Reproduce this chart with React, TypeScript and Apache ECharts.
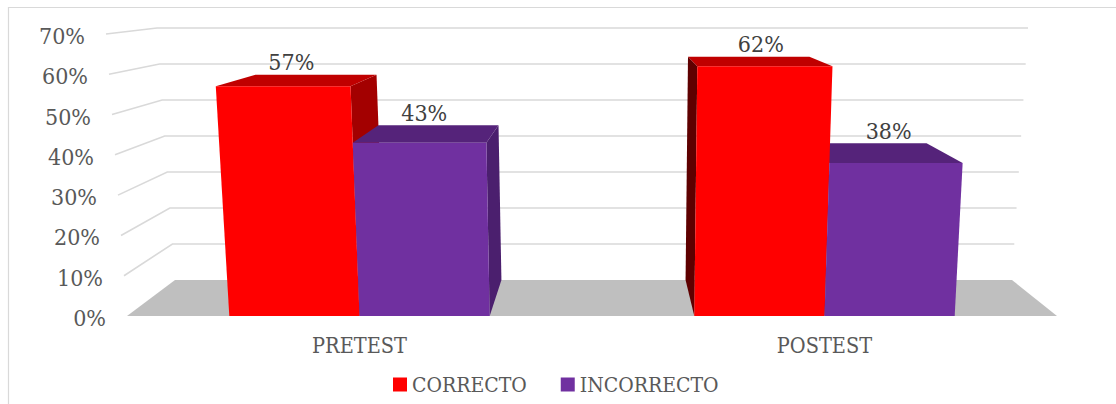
import React, { useEffect, useRef } from "react";
import * as echarts from "echarts";

// ---- data ----
const categories = ["PRETEST", "POSTEST"];
const seriesNames = ["CORRECTO", "INCORRECTO"];
const correcto = [57, 62];
const incorrecto = [43, 38];
const yTicks = [0, 10, 20, 30, 40, 50, 60, 70];
const yTickLabels = ["0%", "10%", "20%", "30%", "40%", "50%", "60%", "70%"];

// ---- styles ----
const FONT = '"DejaVu Serif Condensed", "DejaVu Serif", "Liberation Serif", serif';
const AXIS_TEXT = "#595959";
const LABEL_TEXT = "#404040";
const frontColors = ["#FF0000", "#7030A0"];
const topColors = ["#C00000", "#55237A"];
const rightSideColors = ["#A30000", "#4B1F6E"];
const leftSideColors = ["#5E0000", "#3A1656"];

// perspective warp of the plot box (front plane -> back wall)
function makeProj(cs: any) {
  const bottom = cs.y + cs.height;
  return (px: number, py: number, w: number): number[] => {
    const s = (px - cs.x) / cs.width;
    const t = (bottom - py) / cs.height;
    const fl = cs.x - 21 * t;
    const fr = cs.x + cs.width + 19 * t;
    const xf = fl + s * (fr - fl);
    const bl = cs.x + 48 - 18 * t;
    const br = cs.x + cs.width - 45 + 16 * t;
    const xb = bl + s * (br - bl);
    const yb0 = bottom - 36;
    const yb1 = cs.y - 6;
    const yb = yb0 + t * (yb1 - yb0);
    return [xf + w * (xb - xf), py + w * (yb - py)];
  };
}

function barRender(sIdx: number) {
  return (params: any, api: any) => {
    const cs = params.coordSys;
    const P = makeProj(cs);
    const cat = api.value(0);
    const val = api.value(1);
    const base = api.coord([cat, 0]);
    const topPt = api.coord([cat, val]);
    const cx = base[0];
    const by = base[1];
    const ty = topPt[1];
    const band = api.size([1, 0])[0];
    const bw = band * 0.28;
    const x0 = cx - bw + sIdx * bw;
    const x1 = x0 + bw;
    const front = [P(x0, ty, 0), P(x1, ty, 0), P(x1, by, 0), P(x0, by, 0)];
    const top = [P(x0, ty, 0), P(x1, ty, 0), P(x1, ty, 1), P(x0, ty, 1)];
    const showRight = (x0 + x1) / 2 < cs.x + cs.width / 2;
    const sx = showRight ? x1 : x0;
    const side = [P(sx, ty, 0), P(sx, ty, 1), P(sx, by, 1), P(sx, by, 0)];
    const mid = P((x0 + x1) / 2, ty, 0.25);
    const back = P((x0 + x1) / 2, ty, 1);
    return {
      type: "group",
      children: [
        {
          type: "polygon",
          z2: 1,
          shape: { points: side },
          style: { fill: showRight ? rightSideColors[sIdx] : leftSideColors[sIdx] },
        },
        {
          type: "polygon",
          z2: 2,
          shape: { points: top },
          style: { fill: topColors[sIdx] },
        },
        {
          type: "polygon",
          z2: 10,
          shape: { points: front },
          style: { fill: frontColors[sIdx] },
        },
        {
          type: "text",
          z2: 20,
          x: mid[0],
          y: back[1] - 12.5,
          style: {
            text: `${val}%`,
            align: "center",
            verticalAlign: "middle",
            fontSize: 23,
            fontFamily: FONT,
            fill: LABEL_TEXT,
          },
        },
      ],
    };
  };
}

export default function App() {
  const ref = useRef<HTMLDivElement>(null);

  useEffect(() => {
    if (!ref.current) return;
    const chart = echarts.init(ref.current, undefined, { renderer: "svg" });

    const option: any = {
      animation: false,
      backgroundColor: "#ffffff",
      grid: { left: 127, right: 59, top: 34, bottom: 88, containLabel: false },
      xAxis: {
        type: "category",
        data: categories,
        axisLine: { show: false },
        axisTick: { show: false },
        splitLine: { show: false },
        axisLabel: {
          show: true,
          margin: 29,
          verticalAlign: "middle",
          fontSize: 21.5,
          fontFamily: FONT,
          color: AXIS_TEXT,
        },
      },
      yAxis: {
        type: "value",
        min: 0,
        max: 70,
        interval: 10,
        axisLine: { show: false },
        axisTick: { show: false },
        splitLine: { show: false },
        axisLabel: { show: false },
      },
      legend: {
        data: seriesNames,
        left: 393,
        top: 374,
        padding: 0,
        icon: "rect",
        itemWidth: 14,
        itemHeight: 14,
        itemGap: 34,
        textStyle: { fontSize: 21, fontFamily: FONT, color: AXIS_TEXT },
      },
      graphic: [
        {
          type: "rect",
          silent: true,
          shape: { x: 8.5, y: 7.5, width: 1300, height: 600 },
          style: { fill: "none", stroke: "#D9D9D9", lineWidth: 1.2 },
        },
      ],
      series: [
        {
          name: "floor",
          type: "custom",
          z: 1,
          silent: true,
          data: [[0, 0]],
          renderItem: (params: any, api: any) => {
            const cs = params.coordSys;
            const P = makeProj(cs);
            const y0 = api.coord([0, 0])[1];
            const xl = cs.x;
            const xr = cs.x + cs.width;
            return {
              type: "polygon",
              shape: { points: [P(xl, y0, 0), P(xr, y0, 0), P(xr, y0, 1), P(xl, y0, 1)] },
              style: { fill: "#BFBFBF" },
            };
          },
        },
        {
          name: "grid",
          type: "custom",
          z: 1,
          silent: true,
          data: yTicks.filter((v) => v > 0).map((v) => [0, v]),
          renderItem: (params: any, api: any) => {
            const cs = params.coordSys;
            const P = makeProj(cs);
            const y = api.coord([0, api.value(1)])[1];
            const xl = cs.x;
            const xr = cs.x + cs.width;
            return {
              type: "polyline",
              shape: { points: [P(xl, y, 0), P(xl, y, 1), P(xr, y, 1)] },
              style: { stroke: "#D9D9D9", lineWidth: 1.6, fill: "none" },
            };
          },
        },
        {
          name: "ylabels",
          type: "custom",
          z: 3,
          silent: true,
          data: yTicks.map((v) => [0, v]),
          renderItem: (params: any, api: any) => {
            const cs = params.coordSys;
            const P = makeProj(cs);
            const y = api.coord([0, api.value(1)])[1];
            const p = P(cs.x, y, 0);
            return {
              type: "text",
              x: p[0] - 21,
              y: p[1] + 2,
              style: {
                text: yTickLabels[params.dataIndex],
                align: "right",
                verticalAlign: "middle",
                fontSize: 23,
                fontFamily: FONT,
                fill: AXIS_TEXT,
              },
            };
          },
        },
        {
          name: seriesNames[0],
          type: "custom",
          z: 2,
          itemStyle: { color: frontColors[0] },
          data: correcto.map((v, i) => [i, v]),
          renderItem: barRender(0),
        },
        {
          name: seriesNames[1],
          type: "custom",
          z: 2,
          itemStyle: { color: frontColors[1] },
          data: incorrecto.map((v, i) => [i, v]),
          renderItem: barRender(1),
        },
      ],
    };

    chart.setOption(option);
    return () => {
      chart.dispose();
    };
  }, []);

  return (
    <div
      ref={ref}
      style={{
        position: "fixed",
        left: 0,
        top: 0,
        width: 1116,
        height: 404,
        background: "#ffffff",
      }}
    />
  );
}
